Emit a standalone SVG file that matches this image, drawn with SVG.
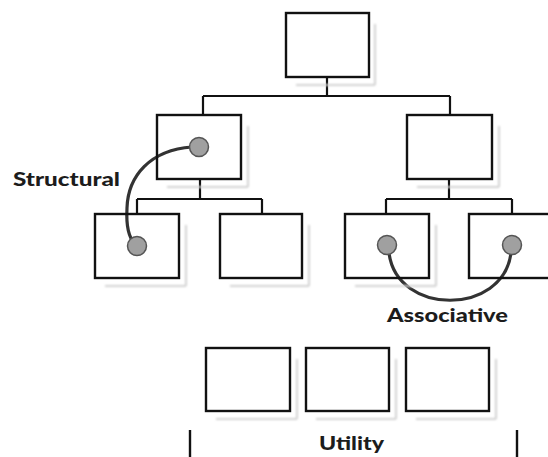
<svg xmlns="http://www.w3.org/2000/svg" width="548" height="457" viewBox="0 0 548 457">
  <style>
    .box { fill: none; stroke: #111111; stroke-width: 2.4; }
    .shadow { fill: none; stroke: #d2d2d2; stroke-width: 2; }
    .wire { fill: none; stroke: #111111; stroke-width: 2.2; }
    .link { fill: none; stroke: #333333; stroke-width: 3.2; stroke-linecap: round; }
    .dot { fill: #a0a0a0; stroke: #555555; stroke-width: 1.5; }
    .label { font-family: "Lato", "Open Sans", "DejaVu Sans", sans-serif; font-weight: 900; font-size: 19px; fill: #1c1c1c; }
    .bar { stroke: #111111; stroke-width: 2.4; }
  </style>
  <defs>
    <filter id="soft" x="-10%" y="-10%" width="120%" height="120%">
      <feGaussianBlur stdDeviation="0.8"/>
    </filter>
  </defs>
  <rect width="548" height="457" fill="#ffffff"/>

  <!-- tree connectors and relation links (boxes are unfilled, so links show through) -->
  <g id="connectors">
    <path class="wire" d="M327 78 V96 M203 96 H450 M203 96 V115 M450 96 V115"/>
    <path class="wire" d="M200 179 V199 M137 199 H262 M137 199 V214 M262 199 V214"/>
    <path class="wire" d="M449 179 V199 M386 199 H512 M386 199 V214 M512 199 V214"/>
    <path class="link" d="M192 147 C150 150 128 176 127 208 C126 226 129 238 135 244"/>
    <path class="link" d="M389 253 C397 316 503 316 511 253"/>
  </g>

  <g id="root">
    <path class="shadow" filter="url(#soft)" d="M296 85 H375 M375 24 V85"/>
    <rect class="box" x="286" y="13" width="83" height="64"/>
  </g>
  <g id="structural-parent">
    <path class="shadow" filter="url(#soft)" d="M167 187 H248 M248 126 V187"/>
    <rect class="box" x="157" y="115" width="84" height="64"/>
    <circle class="dot" cx="199" cy="147" r="9.5"/>
  </g>
  <g id="associative-parent">
    <path class="shadow" filter="url(#soft)" d="M417 187 H499 M499 126 V187"/>
    <rect class="box" x="407" y="115" width="85" height="64"/>
  </g>
  <g id="structural-child">
    <path class="shadow" filter="url(#soft)" d="M105 286 H186 M186 225 V286"/>
    <rect class="box" x="95" y="214" width="84" height="64"/>
    <circle class="dot" cx="137" cy="246" r="9.5"/>
  </g>
  <g id="sibling">
    <path class="shadow" filter="url(#soft)" d="M230 286 H309 M309 225 V286"/>
    <rect class="box" x="220" y="214" width="82" height="64"/>
  </g>
  <g id="associative-left">
    <path class="shadow" filter="url(#soft)" d="M355 286 H436 M436 225 V286"/>
    <rect class="box" x="345" y="214" width="84" height="64"/>
    <circle class="dot" cx="387" cy="245" r="9.5"/>
  </g>
  <g id="associative-right">
    <path class="shadow" filter="url(#soft)" d="M479 286 H548"/>
    <rect class="box" x="469" y="214" width="84" height="64"/>
    <circle class="dot" cx="512" cy="245" r="9.5"/>
  </g>

  <g id="utility-1">
    <path class="shadow" filter="url(#soft)" d="M216 419 H297 M297 359 V419"/>
    <rect class="box" x="206" y="348" width="84" height="63"/>
  </g>
  <g id="utility-2">
    <path class="shadow" filter="url(#soft)" d="M316 419 H396 M396 359 V419"/>
    <rect class="box" x="306" y="348" width="83" height="63"/>
  </g>
  <g id="utility-3">
    <path class="shadow" filter="url(#soft)" d="M416 419 H496 M496 359 V419"/>
    <rect class="box" x="406" y="348" width="83" height="63"/>
  </g>

  <g id="labels">
    <text class="label" x="13" y="186" textLength="107" lengthAdjust="spacingAndGlyphs">Structural</text>
    <text class="label" x="387" y="322" textLength="121" lengthAdjust="spacingAndGlyphs">Associative</text>
    <text class="label" x="319" y="450" textLength="65" lengthAdjust="spacingAndGlyphs">Utility</text>
  </g>
  <g id="utility-bracket">
    <line class="bar" x1="190" y1="430" x2="190" y2="457"/>
    <line class="bar" x1="517" y1="430" x2="517" y2="457"/>
  </g>
</svg>
